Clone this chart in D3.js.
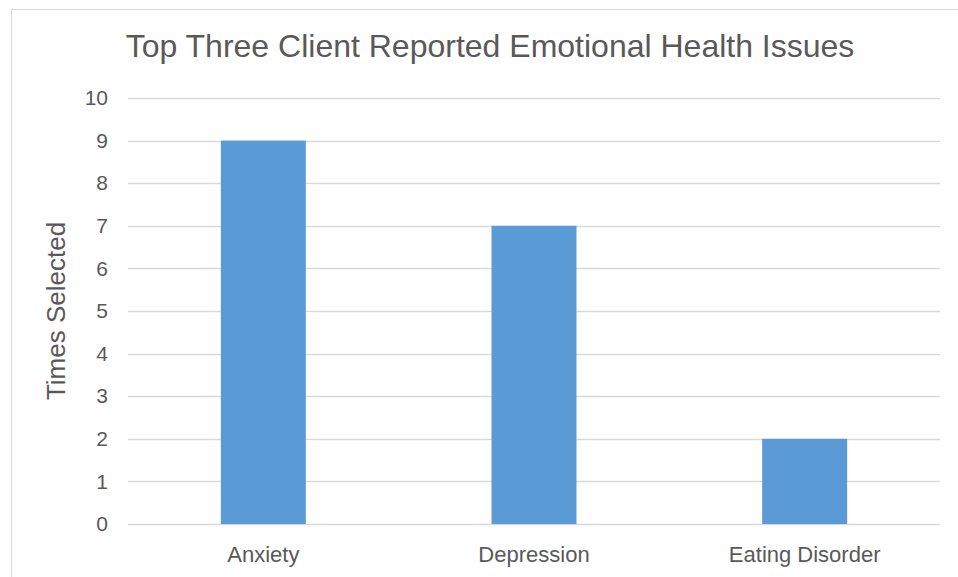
<!DOCTYPE html>
<html>
<head>
<meta charset="utf-8">
<script src="https://cdn.jsdelivr.net/npm/d3@7"></script>
<style>
  html, body { margin: 0; padding: 0; background: #fff; }
  svg { display: block; }
</style>
</head>
<body>
<svg id="chart" width="958" height="577"></svg>
<script>
// Chart data
const categories = ["Anxiety", "Depression", "Eating Disorder"];
const timesSelected = [9, 7, 2];
const yTicks = [0, 1, 2, 3, 4, 5, 6, 7, 8, 9, 10];
const titleText = "Top Three Client Reported Emotional Health Issues";
const yAxisTitle = "Times Selected";

const svg = d3.select("#chart");
const W = 958, H = 577;
const margin = { top: 98, right: 18, bottom: 53, left: 128 };
const plotW = W - margin.left - margin.right;
const plotH = H - margin.top - margin.bottom;

const textColor = "#595959";
const gridColor = "#d9d9d9";
const barColor = "#5b9bd5";
const fontFamily = "'Liberation Sans', Arial, sans-serif";

// Outer chart frame
svg.append("rect")
  .attr("x", 11.5).attr("y", 9.5)
  .attr("width", W).attr("height", H)
  .attr("fill", "#fff")
  .attr("stroke", "#d9d9d9")
  .attr("stroke-width", 1);

const g = svg.append("g").attr("transform", `translate(${margin.left},${margin.top})`);

const x = d3.scaleBand()
  .domain(categories)
  .range([0, plotW])
  .paddingInner(0.686)
  .paddingOuter(0.343);

const y = d3.scaleLinear()
  .domain([0, 10])
  .range([plotH, 0]);

// Horizontal gridlines
g.append("g")
  .selectAll("line")
  .data(yTicks)
  .join("line")
  .attr("x1", 0).attr("x2", plotW)
  .attr("y1", d => Math.round(y(d)) + 0.5)
  .attr("y2", d => Math.round(y(d)) + 0.5)
  .attr("stroke", gridColor)
  .attr("stroke-width", 1.5);

// Y axis tick labels
const yAxis = d3.axisLeft(y).tickValues(yTicks).tickSize(0).tickPadding(20);
const yAxisG = g.append("g").call(yAxis);
yAxisG.select(".domain").remove();
yAxisG.selectAll("text")
  .attr("fill", textColor)
  .style("font-family", fontFamily)
  .style("font-size", "21px");

// Bars
g.append("g")
  .selectAll("rect")
  .data(categories)
  .join("rect")
  .attr("x", d => x(d))
  .attr("y", (d, i) => y(timesSelected[i]))
  .attr("width", x.bandwidth())
  .attr("height", (d, i) => y(0) - y(timesSelected[i]))
  .attr("fill", barColor);

// X axis category labels
const xAxis = d3.axisBottom(x).tickSize(0).tickPadding(22);
const xAxisG = g.append("g").attr("transform", `translate(0,${plotH})`).call(xAxis);
xAxisG.select(".domain").remove();
xAxisG.selectAll("text")
  .attr("fill", textColor)
  .style("font-family", fontFamily)
  .style("font-size", "22px");

// Y axis title
svg.append("text")
  .attr("transform", `translate(65,${margin.top + plotH / 2}) rotate(-90)`)
  .attr("text-anchor", "middle")
  .attr("fill", textColor)
  .style("font-family", fontFamily)
  .style("font-size", "26px")
  .text(yAxisTitle);

// Chart title
svg.append("text")
  .attr("x", 490)
  .attr("y", 57)
  .attr("text-anchor", "middle")
  .attr("fill", textColor)
  .style("font-family", fontFamily)
  .style("font-size", "32px")
  .text(titleText);
</script>
</body>
</html>
